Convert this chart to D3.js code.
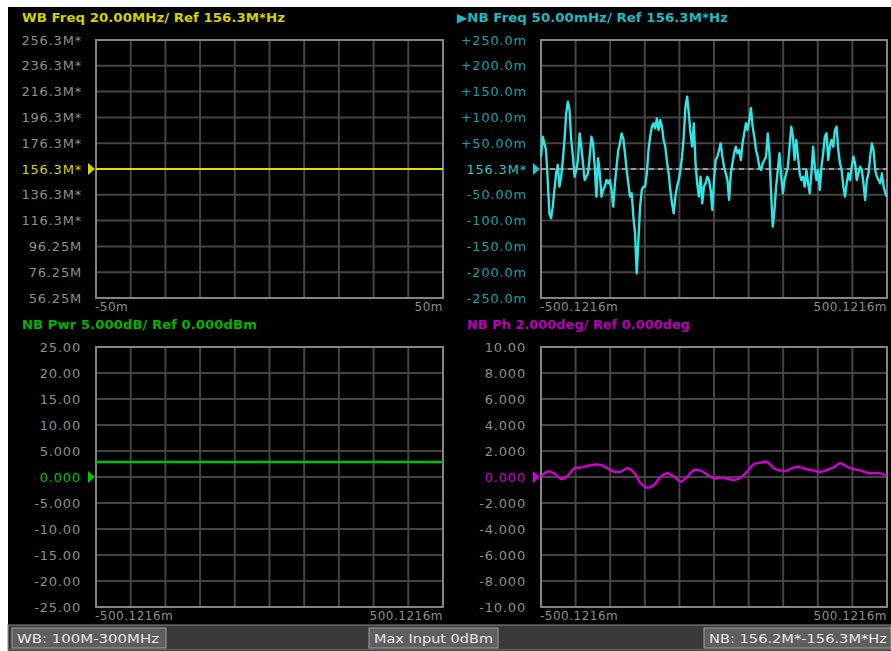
<!DOCTYPE html>
<html><head><meta charset="utf-8">
<script src="https://cdn.jsdelivr.net/npm/d3@7"></script>
<style>
html,body{margin:0;padding:0;background:#fff;}
svg{display:block;}
text{font-family:"DejaVu Sans",Verdana,sans-serif;}
</style></head>
<body>
<script>
// ---------- DATA ----------
const wbTickLabels = ["256.3M*","236.3M*","216.3M*","196.3M*","176.3M*","156.3M*","136.3M*","116.3M*","96.25M","76.25M","56.25M"];
const nbFreqTickLabels = ["+250.0m","+200.0m","+150.0m","+100.0m","+50.00m","156.3M*","-50.00m","-100.0m","-150.0m","-200.0m","-250.0m"];
const pwrTickLabels = ["25.00","20.00","15.00","10.00","5.000","0.000","-5.000","-10.00","-15.00","-20.00","-25.00"];
const phTickLabels = ["10.00","8.000","6.000","4.000","2.000","0.000","-2.000","-4.000","-6.000","-8.000","-10.00"];
const wbXLabels = ["-50m","50m"];
const nbXLabels = ["-500.1216m","500.1216m"];
const titles = ["WB Freq 20.00MHz/ Ref 156.3M*Hz","\u25B6NB Freq 50.00mHz/ Ref 156.3M*Hz","NB Pwr 5.000dB/ Ref 0.000dBm","NB Ph 2.000deg/ Ref 0.000deg"];
const statusLabels = ["WB: 100M-300MHz","Max Input 0dBm","NB: 156.2M*-156.3M*Hz"];

// WB frequency offset from ref (MHz), constant trace
const wbFreqOffset = 0;
// NB power (dB), constant trace
const nbPowerLevel = 2.9;
// NB frequency deviation (mHz), uniformly sampled over -500.1216m..500.1216m
const nbFreqValues = [
 23.9,62.7,49.7,36.8,-21.3,-85.9,-95.6,-73,-40.7,-8.4,
 7.8,-34.2,-14.9,17.4,56.2,107.9,130.5,114.3,56.2,23.9,
 -14.9,-1.9,17.4,69.1,43.3,11,-21.3,-14.9,-8.4,23.9,
 62.7,49.7,4.5,-53.6,20.7,-8.4,-53.6,-40.7,-34.2,-21.3,
 -27.8,-21.3,-40.7,-73,-27.8,4.5,36.8,49.7,69.1,59.4,
 30.4,-1.9,-27.8,-53.6,-47.1,-92.3,-124.7,-202.2,-137.6,-73,
 -40.7,-34.2,-34.2,-8.4,36.8,62.7,82.1,88.5,78.8,98.2,
 75.6,95,82.1,56.2,43.3,14.2,-8.4,-40.7,-66.6,-85.9,
 -53.6,-34.2,-21.3,-1.9,23.9,62.7,120.8,140.2,107.9,69.1,
 43.3,88.5,11,-27.8,-53.6,-14.9,-66.6,-34.2,-27.8,-14.9,-21.3,
 -40.7,-79.5,-21.3,17.4,23.9,36.8,49.7,23.9,4.5,-8.4,
 -21.3,-60.1,-8.4,11,30.4,43.3,30.4,36.8,17.4,49.7,
 69.1,88.5,75.6,95,118,82.1,62.7,36.8,23.9,4.5,
 -1.9,11,17.4,23.9,69.1,30.4,-47.1,-111.7,-79.5,-34.2,
 -1.9,30.4,-14.9,-47.1,-21.3,-8.4,4.5,43.3,82.1,62.7,
 17.4,56.2,23.9,-8.4,-21.3,-14.9,-34.2,-1.9,-27.8,-47.1,
 -8.4,43.3,4.5,-21.3,-1.9,-40.7,4.5,30.4,62.7,69.1,
 17.4,43.3,56.2,43.3,75.6,82.1,36.8,11,-1.9,-34.2,
 -53.6,-27.8,-8.4,-21.3,4.5,23.9,11,-21.3,-8.4,4.5,
 -1.9,-27.8,-60.1,-21.3,-8.4,23.9,49.7,36.8,-1.9,-14.9,
 -21.3,-27.8,-8.4,-34.2,-47.1,-53.6
];
// NB phase (deg), uniformly sampled
const nbPhaseValues = [
 0.03,0.41,0.28,-0.15,0.08,0.67,0.72,0.85,0.95,0.92,
 0.67,0.41,0.41,0.67,0.33,-0.49,-0.82,-0.62,0.03,0.28,
 0.03,-0.36,0.03,0.54,0.49,0.18,-0.10,-0.05,-0.13,-0.23,
 -0.05,0.41,1.0,1.10,1.15,0.67,0.49,0.49,0.74,0.74,
 0.59,0.49,0.38,0.54,0.74,1.05,0.79,0.59,0.51,0.33,
 0.28,0.28,0.08
];

// ---------- DRAW ----------
const W = 891, H = 651;
const svg = d3.select("body").append("svg").attr("width", W).attr("height", H);
svg.append("rect").attr("x",8).attr("y",7).attr("width",W-8).attr("height",H-7).attr("fill","#000");

const gridColor = "#444444", borderColor = "#858585", labelColor = "#8e8e8e";

const panels = [
  {x0:96,x1:443,y0:40,y1:298, ydom:[-100,100], xdom:[-50,50], yLabels:wbTickLabels, xLabels:wbXLabels,
   title:titles[0], titleX:22, titleY:22, titleLen:263, color:"#d2d200", labelX:82, labelColor:labelColor, refColor:"#d8d800"},
  {x0:541,x1:887,y0:40,y1:298, ydom:[-250,250], xdom:[-500.1216,500.1216], yLabels:nbFreqTickLabels, xLabels:nbXLabels,
   title:titles[1], titleX:457, titleY:22, titleLen:271, color:"#1fb8c0", labelX:527, labelColor:"#1a9fa4", refColor:"#26c6cc"},
  {x0:96,x1:443,y0:347,y1:607, ydom:[-25,25], xdom:[-500.1216,500.1216], yLabels:pwrTickLabels, xLabels:nbXLabels,
   title:titles[2], titleX:22, titleY:329, titleLen:235, color:"#00b400", labelX:81, labelColor:labelColor, refColor:"#00c800"},
  {x0:541,x1:887,y0:347,y1:607, ydom:[-10,10], xdom:[-500.1216,500.1216], yLabels:phTickLabels, xLabels:nbXLabels,
   title:titles[3], titleX:467, titleY:329, titleLen:223, color:"#b800b8", labelX:526, labelColor:labelColor, refColor:"#d000d0"}
];

panels.forEach((p, pi) => {
  const g = svg.append("g");
  p.x = d3.scaleLinear().domain(p.xdom).range([p.x0, p.x1]);
  p.y = d3.scaleLinear().domain(p.ydom).range([p.y1, p.y0]);
  const xt = d3.range(11).map(i => p.xdom[0] + i*(p.xdom[1]-p.xdom[0])/10);
  const yt = d3.range(11).map(i => p.ydom[1] - i*(p.ydom[1]-p.ydom[0])/10);
  // grid
  g.selectAll("line.v").data(xt.slice(1,-1)).join("line")
    .attr("x1", d=>p.x(d)).attr("x2", d=>p.x(d)).attr("y1", p.y0).attr("y2", p.y1)
    .attr("stroke", gridColor).attr("stroke-width", 2);
  g.selectAll("line.h").data(yt.slice(1,-1)).join("line")
    .attr("y1", d=>p.y(d)).attr("y2", d=>p.y(d)).attr("x1", p.x0).attr("x2", p.x1)
    .attr("stroke", gridColor).attr("stroke-width", 2);
  g.append("rect").attr("x",p.x0).attr("y",p.y0).attr("width",p.x1-p.x0).attr("height",p.y1-p.y0)
    .attr("fill","none").attr("stroke",borderColor).attr("stroke-width",2);
  // y labels
  g.selectAll("text.yl").data(yt).join("text")
    .attr("x", p.labelX).attr("y", d=>p.y(d)).attr("dy","0.36em")
    .attr("text-anchor","end").attr("font-size",13).attr("letter-spacing","0.8px")
    .attr("fill", (d,i)=> i===5 ? p.refColor : p.labelColor)
    .text((d,i)=>p.yLabels[i]);
  // x labels
  g.append("text").attr("x",p.x0-1).attr("y",p.y1+13).attr("font-size",12).attr("letter-spacing","0.5px").attr("fill",labelColor).text(p.xLabels[0]);
  g.append("text").attr("x",p.x1).attr("y",p.y1+13).attr("text-anchor","end").attr("font-size",12).attr("letter-spacing","0.5px").attr("fill",labelColor).text(p.xLabels[1]);
  // title
  g.append("text").attr("x",p.titleX).attr("y",p.titleY).attr("font-size",12.5).attr("font-weight","bold")
    .attr("fill",p.color).attr("textLength",p.titleLen).attr("lengthAdjust","spacingAndGlyphs").text(p.title);
  // ref marker
  const ry = p.y(0);
  g.append("path").attr("d", `M${p.x0-8},${ry-6}L${p.x0-1},${ry}L${p.x0-8},${ry+6}Z`).attr("fill", p.refColor);
});

// Traces
const tl = panels[0], tr = panels[1], bl = panels[2], br = panels[3];
svg.append("line").attr("x1",tl.x0).attr("x2",tl.x1).attr("y1",tl.y(wbFreqOffset)).attr("y2",tl.y(wbFreqOffset))
  .attr("stroke","#e0e000").attr("stroke-width",2);
svg.append("line").attr("x1",bl.x0).attr("x2",bl.x1).attr("y1",bl.y(nbPowerLevel)).attr("y2",bl.y(nbPowerLevel))
  .attr("stroke","#00c000").attr("stroke-width",2.5);
// dashed ref line in NB freq
svg.append("line").attr("x1",tr.x0).attr("x2",tr.x1).attr("y1",tr.y(0)).attr("y2",tr.y(0))
  .attr("stroke","#c9b0b0").attr("stroke-width",1.5).attr("stroke-dasharray","5,4");

const tStep = (n) => d3.range(n).map(i => -500.1216 + i*1000.2432/(n-1));
const fT = tStep(nbFreqValues.length);
svg.append("path").datum(nbFreqValues)
  .attr("d", d3.line().x((d,i)=>tr.x(fT[i])).y(d=>tr.y(d)))
  .attr("fill","none").attr("stroke","#33e2e2").attr("stroke-width",2.4).attr("stroke-linejoin","round");
const pT = tStep(nbPhaseValues.length);
svg.append("path").datum(nbPhaseValues)
  .attr("d", d3.line().x((d,i)=>br.x(pT[i])).y(d=>br.y(d)).curve(d3.curveCatmullRom))
  .attr("fill","none").attr("stroke","#d000d0").attr("stroke-width",2.5).attr("stroke-linejoin","round");

// Status bar
const sb = svg.append("g");
sb.append("rect").attr("x",8).attr("y",625).attr("width",W-8).attr("height",25).attr("fill","#3a3a3a").attr("stroke","#8a8a8a").attr("stroke-width",1);
const boxes = [{x:12,w:154,tl:142},{x:369,w:129,tl:119},{x:704,w:187,tl:178}];
boxes.forEach((b,i)=>{
  sb.append("rect").attr("x",b.x).attr("y",628).attr("width",b.w).attr("height",20).attr("fill","#5e5e5e").attr("stroke","#a0a0a0").attr("stroke-width",1);
  sb.append("text").attr("x",b.x+5).attr("y",643).attr("font-size",12).attr("fill","#e8e8e8")
    .attr("textLength",b.tl).attr("lengthAdjust","spacingAndGlyphs").text(statusLabels[i]);
});
</script>
</body></html>
